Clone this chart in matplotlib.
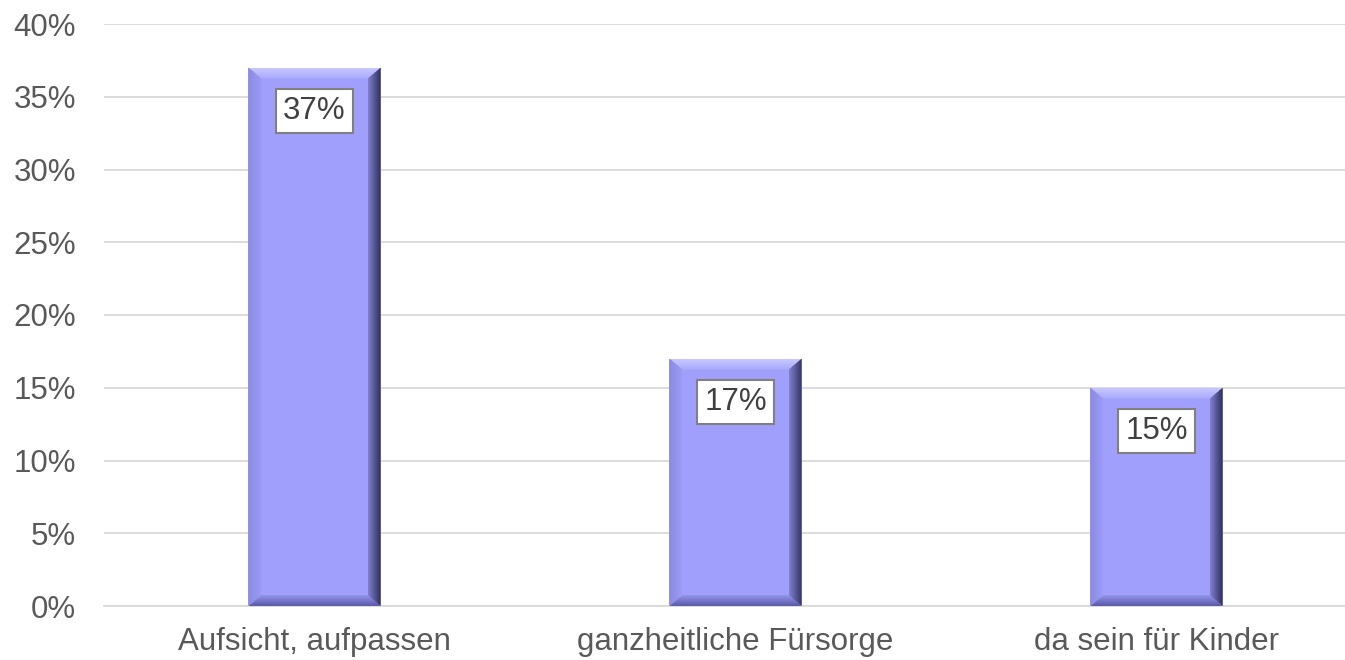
import matplotlib
matplotlib.use("Agg")
import matplotlib.pyplot as plt
import numpy as np
from matplotlib.patches import Polygon
from matplotlib.colors import LinearSegmentedColormap
from matplotlib.ticker import MultipleLocator, FuncFormatter

categories = ["Aufsicht, aufpassen", "ganzheitliche Fürsorge", "da sein für Kinder"]
values = [37, 17, 15]
labels = ["37%", "17%", "15%"]

plt.rcParams['font.family'] = ['Liberation Sans', 'DejaVu Sans']

fig = plt.figure(figsize=(13.45, 6.6), dpi=100)
ax = fig.add_axes([104 / 1345, 54 / 660, 1263 / 1345, 582 / 660])

face = "#a0a0fc"
bars = ax.bar(range(len(categories)), values, width=0.314, color=face, zorder=2)

ax.set_xlim(-0.5, len(categories) - 0.5)
ax.set_ylim(0, 40)
ax.yaxis.set_major_locator(MultipleLocator(5))
ax.yaxis.set_major_formatter(FuncFormatter(lambda v, p: f"{v:.0f}%"))
ax.set_xticks(range(len(categories)))
ax.set_xticklabels(categories)
ax.tick_params(axis='both', length=0, labelsize=22.5, colors="#595959")
ax.tick_params(axis='x', pad=15)
ax.tick_params(axis='y', pad=20)
ax.grid(axis='y', color="#d9d9d9", linewidth=1.3, zorder=0)
ax.set_axisbelow(True)
for s in ["top", "right", "left"]:
    ax.spines[s].set_visible(False)
ax.spines["bottom"].set_color("#d9d9d9")
ax.spines["bottom"].set_linewidth(1.3)

# bevel size in data units (from pixel sizes)
px_x = 1.0 / (1263 / 3)
px_y = 40.0 / 582
bx = 13 * px_x
by = 11 * px_y


def grad_side(poly, extent, c_out, c_in, direction):
    cmap = LinearSegmentedColormap.from_list("g", [c_out, c_in])
    g = np.linspace(0, 1, 64)
    if direction == "down":      # outer at top
        arr = g[:, None]
    elif direction == "up":      # outer at bottom
        arr = g[::-1, None]
    elif direction == "right":   # outer at left
        arr = g[None, :]
    else:                        # outer at right
        arr = g[None, ::-1]
    im = ax.imshow(arr, cmap=cmap, extent=extent, origin="upper",
                   aspect="auto", zorder=3, interpolation="bilinear")
    p = Polygon(poly, closed=True, facecolor="none", edgecolor="none",
                transform=ax.transData)
    ax.add_patch(p)
    im.set_clip_path(p)


for r in bars:
    x0, w, h = r.get_x(), r.get_width(), r.get_height()
    x1 = x0 + w
    # top
    grad_side([(x0, h), (x1, h), (x1 - bx, h - by), (x0 + bx, h - by)],
              (x0, x1, h - by, h), "#c8c8ff", "#a8a8ff", "down")
    # bottom
    grad_side([(x0, 0), (x1, 0), (x1 - bx, by), (x0 + bx, by)],
              (x0, x1, 0, by), "#5a5aa8", "#9494ee", "up")
    # left
    grad_side([(x0, 0), (x0, h), (x0 + bx, h - by), (x0 + bx, by)],
              (x0, x0 + bx, 0, h), "#8a8ae0", "#9c9cf8", "right")
    # right
    grad_side([(x1, 0), (x1, h), (x1 - bx, h - by), (x1 - bx, by)],
              (x1 - bx, x1, 0, h), "#2e2e5a", "#8080d0", "left")

ax.set_xlim(-0.5, len(categories) - 0.5)
ax.set_ylim(0, 40)

for r, lab in zip(bars, labels):
    ax.annotate(lab, (r.get_x() + r.get_width() / 2, r.get_height()),
                xytext=(0, -31), textcoords="offset points",
                ha="center", va="center", fontsize=22.5, color="#404040",
                zorder=5,
                bbox=dict(boxstyle="square,pad=0.22", fc="white",
                          ec="#808080", lw=1.5))

fig.savefig("out.png", dpi=100)
